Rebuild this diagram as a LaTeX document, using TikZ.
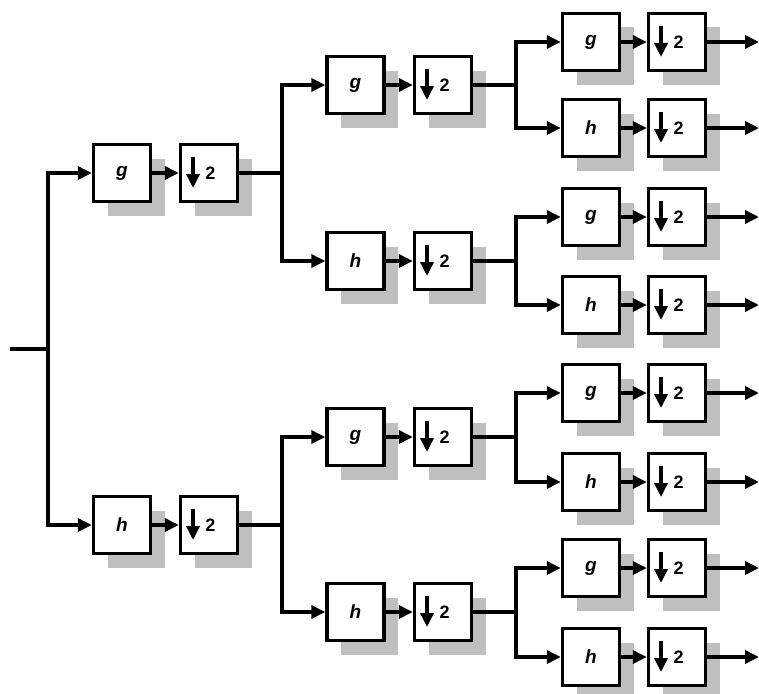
\documentclass[tikz,border=0pt]{standalone}
\usepackage{fontspec}
\setsansfont{Liberation Sans}
\usetikzlibrary{arrows.meta,shadows}

\begin{document}
\begin{tikzpicture}[x=1pt,y=-1pt,line width=3.4pt,
    >={Triangle[length=14pt,width=13pt]},
    box/.style={draw,fill=white,minimum size=57pt,inner sep=0pt,
      font=\sffamily\bfseries\itshape\fontsize{19}{19}\selectfont,
      drop shadow={shadow xshift=14pt,shadow yshift=-14pt,opacity=1,fill=black!25}},
    down/.style={box,font=\sffamily\bfseries\fontsize{18}{18}\selectfont,
      path picture={\draw[->] ([xshift=-16pt,yshift=16pt]path picture bounding box.center)
        -- ([xshift=-16pt,yshift=-15pt]path picture bounding box.center);}}]

    \useasboundingbox (0,0) rectangle (759,693);

    % input
    \coordinate (in) at (10,349);
    \coordinate (s0) at (48,349);
    \draw (in) -- (s0);

    % level 1
    \foreach \n/\t/\y in {1/g/173, 2/h/525} {
      \node[box] (f1\n) at (122,\y) {\t};
      \node[down] (d1\n) at (209,\y) {\,2};
      \coordinate (s1\n) at (282,\y);
      \draw[->] (s0) |- (f1\n.west);
      \draw[->] (f1\n) -- (d1\n);
      \draw (d1\n) -- (s1\n);
    }

    % level 2
    \foreach \n/\t/\y/\p in {1/g/85/1, 2/h/261/1, 3/g/437/2, 4/h/612/2} {
      \node[box] (f2\n) at (355.5,\y) {\t};
      \node[down] (d2\n) at (443,\y) {\,2};
      \coordinate (s2\n) at (516,\y);
      \draw[->] (s1\p) |- (f2\n.west);
      \draw[->] (f2\n) -- (d2\n);
      \draw (d2\n) -- (s2\n);
    }

    % level 3
    \foreach \n/\t/\y/\p in {1/g/42/1, 2/h/128/1, 3/g/217/2, 4/h/305/2,
                             5/g/393/3, 6/h/482/3, 7/g/568/4, 8/h/657/4} {
      \node[box] (f3\n) at (591,\y) {\t};
      \node[down] (d3\n) at (677,\y) {\,2};
      \coordinate (o\n) at (759,\y);
      \draw[->] (s2\p) |- (f3\n.west);
      \draw[->] (f3\n) -- (d3\n);
      \draw[->] (d3\n) -- (o\n);
    }

\end{tikzpicture}
\end{document}
